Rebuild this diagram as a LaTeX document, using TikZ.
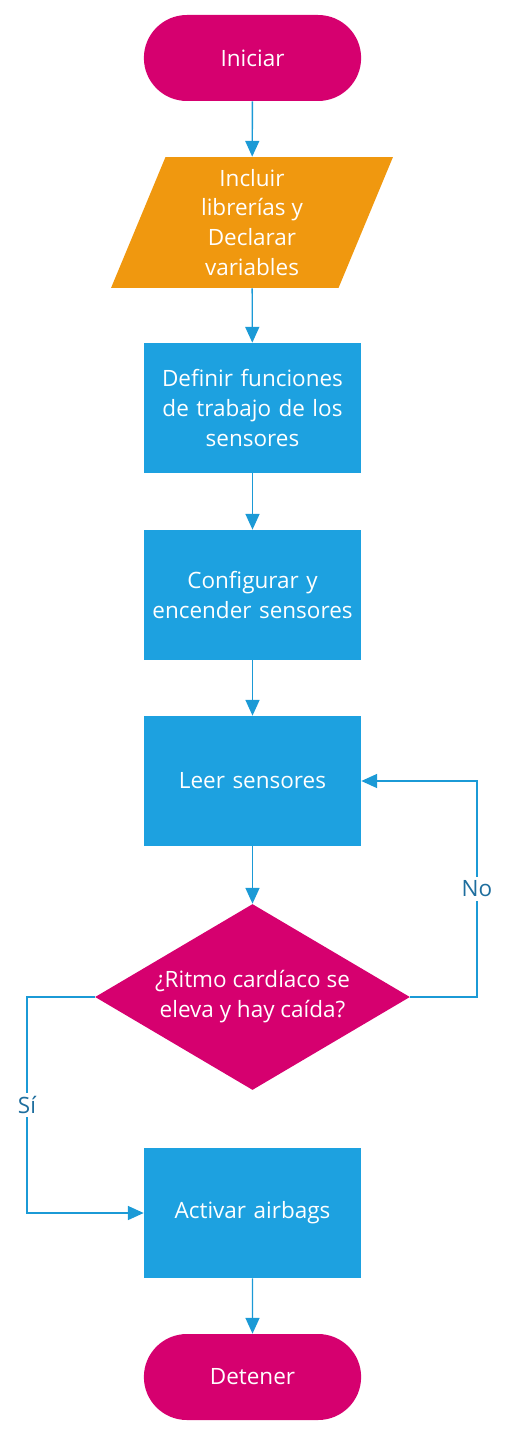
\documentclass[tikz,border=0pt]{standalone}
\usepackage{fontspec}
\setmainfont{Open Sans}
\usepackage{xcolor}
\usepackage{tikz}
\usetikzlibrary{arrows.meta, shapes.geometric, shapes.misc}

\definecolor{magentafill}{HTML}{D6006F}
\definecolor{orangefill}{HTML}{F0980F}
\definecolor{bluefill}{HTML}{1DA1E0}
\definecolor{lineblue}{HTML}{1B9AD6}
\definecolor{labelblue}{HTML}{1E6E9E}

\begin{document}
\begin{tikzpicture}[x=0.02cm, y=-0.02cm, >={Triangle[width=8pt,length=9pt]},
  every node/.style={font=\fontsize{12.8}{17}\selectfont, text=white, align=center},
  terminal/.style={rounded rectangle, fill=magentafill, minimum width=4.58cm, minimum height=1.72cm},
  inout/.style={trapezium, trapezium left angle=63, trapezium right angle=117, trapezium stretches body,
    fill=orangefill, minimum width=5.64cm, minimum height=2.62cm, inner sep=0pt},
  process/.style={rectangle, fill=bluefill, minimum width=4.34cm, minimum height=2.6cm,
    inner xsep=0pt, text width=4.34cm},
  decision/.style={diamond, aspect=1.69, fill=magentafill, minimum width=6.3cm, minimum height=3.72cm, inner sep=0pt},
  flow/.style={->, draw=lineblue, line width=0.8pt},
  answer/.style={fill=white, text=labelblue, inner sep=2pt}]

\useasboundingbox (0,0) rectangle (507,1435);

\node[terminal] (start) at (252.5,58) {Iniciar};
\node[inout] (libs) at (252,222.5) {Incluir\\librerías y\\Declarar\\variables};
\node[process] (funcs) at (252.5,408) {Definir funciones\\de trabajo de los\\sensores};
\node[process] (config) at (252.5,595) {Configurar y\\encender sensores};
\node[process] (read) at (252.5,781) {Leer sensores};
\node[decision] (check) at (252.5,997) {¿Ritmo cardíaco se\\eleva y hay caída?};
\node[process] (airbag) at (252.5,1213) {Activar airbags};
\node[terminal] (stop) at (252.5,1377) {Detener};

\coordinate (nocorner) at (477,997);
\coordinate (sicorner) at (27,997);

\draw[flow] (start) -- (libs);
\draw[flow] (libs) -- (funcs);
\draw[flow] (funcs) -- (config);
\draw[flow] (config) -- (read);
\draw[flow] (read) -- (check);
\draw[flow] (check.east) -- (nocorner) |- node[pos=0.25, answer] {No} (read.east);
\draw[flow] (check.west) -- (sicorner) |- node[pos=0.25, answer] {Sí} (airbag.west);
\draw[flow] (airbag) -- (stop);

\end{tikzpicture}
\end{document}
